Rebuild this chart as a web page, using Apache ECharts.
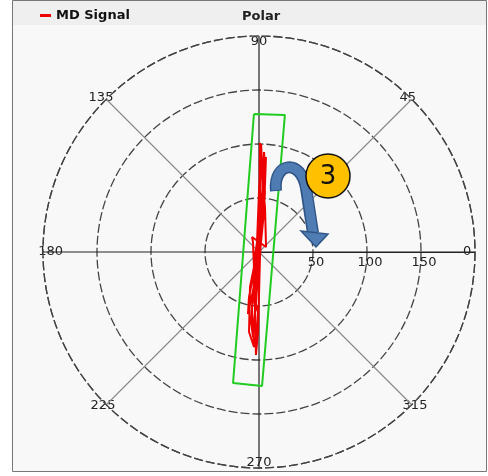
<!DOCTYPE html>
<html>
<head>
<meta charset="utf-8">
<script src="https://cdn.jsdelivr.net/npm/echarts@6/dist/echarts.min.js"></script>
<style>
html,body{margin:0;padding:0;background:#ffffff;}
#chart{width:488px;height:476px;}
</style>
</head>
<body>
<div id="chart"></div>
<script>
// Angle tick labels (degrees)
const angleLabels = ['0', '45', '90', '135', '180', '225', '270', '315'];
// Radius tick labels
const radiusLabels = ['50', '100', '150'];
const radiusMax = 200;

// MD Signal trace: radius and angle (degrees)
const signalR = [90.8, 55.6, 37.5, 18.6, 64.8, 100.0, 83.4, 55.8, 28.0, 2.1, 28.2, 65.2, 78.9, 46.4, 9.3, 37.3, 88.2, 65.1, 18.7, 14.4, 42.7, 58.3, 18.6, 9.3, 46.4, 97.2, 55.6, 9.4, 10.4, 95.4, 74.1, 4.7,
  27.9, 78.9, 92.7, 64.9, 37.1, 5.4, 33.5, 74.6, 88.1, 51.3, 23.2, 18.5, 101.0, 69.5,
  42.0, 8.0, 15.3, 10.8, 41.8];
const signalTheta = [268.2, 269.0, 261.5, 84.3, 89.2, 88.9, 88.1, 84.3, 82.4, 116.6, 260.5, 263.5, 266.0, 266.6, 270.0, 82.9, 85.8, 85.1, 81.5, 255.1, 257.5, 259.9, 264.3, 84.3, 85.4, 88.9, 90.0, 101.3, 243.4, 268.3, 269.3, 281.3,
  84.3, 86.0, 87.1, 86.7, 87.1, 239.0, 255.6, 262.9, 267.0, 262.7, 265.4, 90.0, 89.5, 87.7,
  82.4, 35.5, 115.0, 121.0, 265.0];

// Green box outline: radius and angle (degrees)
const boxR = [127.9, 129.1, 124.1, 123.7, 127.9];
const boxTheta = [92.1, 79.3, 271.3, 258.8, 92.1];

const signalData = signalR.map((r, i) => [r, signalTheta[i]]);
const boxData = boxR.map((r, i) => [r, boxTheta[i]]);

const labelBase = {fontFamily: 'DejaVu Sans', fontSize: 13, color: '#222', textBorderColor: '#f8f8f8', textBorderWidth: 3};
const angleRich = {
  r0: Object.assign({padding: [0, 0, 0, 8]}, labelBase),
  r1: Object.assign({padding: [0, 0, 9, 2]}, labelBase),
  r2: Object.assign({padding: [0, 0, 8, 0]}, labelBase),
  r3: Object.assign({padding: [0, 7, 9, 0]}, labelBase),
  r4: Object.assign({padding: [0, 0, 0, 0]}, labelBase),
  r5: Object.assign({padding: [9, 5, 0, 0]}, labelBase),
  r6: Object.assign({padding: [8, 0, 0, 0]}, labelBase),
  r7: Object.assign({padding: [9, 0, 0, 5]}, labelBase)
};

const chart = echarts.init(document.getElementById('chart'), null, {renderer: 'canvas'});
chart.setOption({
  animation: false,
  backgroundColor: '#ffffff',
  title: {
    text: 'Polar',
    left: 237,
    top: 5,
    textStyle: {fontFamily: 'DejaVu Sans', fontSize: 13, fontWeight: 'bold', color: '#222'}
  },
  legend: {
    data: ['MD Signal'],
    left: 35,
    top: 4,
    icon: 'rect',
    itemWidth: 11,
    itemHeight: 3,
    itemGap: 4,
    textStyle: {fontFamily: 'DejaVu Sans', fontSize: 13, fontWeight: 'bold', color: '#111'}
  },
  polar: {center: [259, 252], radius: 216},
  angleAxis: {
    type: 'value',
    min: 0, max: 360, interval: 45,
    startAngle: 0,
    clockwise: false,
    axisLine: {show: true, lineStyle: {color: '#444', width: 1.3, type: [9, 3]}},
    axisTick: {show: false},
    axisLabel: {
      margin: -20,
      rich: angleRich,
      formatter: function (v) {
        const i = Math.round(v / 45);
        return i < angleLabels.length ? '{r' + i + '|' + angleLabels[i] + '}' : '';
      }
    },
    splitLine: {show: true, lineStyle: {color: ['#222', '#8a8a8a'], width: 1.2}}
  },
  radiusAxis: {
    type: 'value',
    min: 0, max: radiusMax, interval: 50,
    axisLine: {show: true, lineStyle: {color: '#222', width: 1.2}},
    axisTick: {show: false},
    axisLabel: {
      showMinLabel: false, showMaxLabel: false,
      margin: -4,
      verticalAlign: 'top',
      padding: [0, 0, 0, 6],
      fontFamily: 'DejaVu Sans', fontSize: 13, color: '#222',
      formatter: function (v) { const i = Math.round(v / 50) - 1; return (i >= 0 && i < radiusLabels.length) ? radiusLabels[i] : ''; }
    },
    splitLine: {show: true, lineStyle: {color: '#444', width: 1.3, type: [9, 3]}}
  },
  series: [
    {
      name: 'MD Signal', type: 'line', coordinateSystem: 'polar',
      data: signalData, showSymbol: false, symbol: 'none', z: 4,
      lineStyle: {color: '#ee0000', width: 2}, itemStyle: {color: '#ee0000'}
    },
    {
      name: 'Box', type: 'line', coordinateSystem: 'polar',
      data: boxData, showSymbol: false, symbol: 'none', z: 3,
      lineStyle: {color: '#1fcc1f', width: 2}, itemStyle: {color: '#1fcc1f'}
    }
  ],
  graphic: [
    {type: 'rect', z: -10, silent: true, shape: {x: 12.5, y: 0.5, width: 474, height: 471}, style: {fill: '#f8f8f8', stroke: '#777', lineWidth: 1}},
    {type: 'rect', z: -9, silent: true, shape: {x: 13, y: 1, width: 473, height: 24}, style: {fill: '#efefef'}},
    {type: 'bezierCurve', z: 20, silent: true,
      shape: {x1: 276, y1: 191, cpx1: 273, cpy1: 162, cpx2: 301, cpy2: 158, x2: 306, y2: 188},
      style: {fill: null, stroke: '#2f5587', lineWidth: 12}},
    {type: 'line', z: 20, silent: true,
      shape: {x1: 306, y1: 188, x2: 313, y2: 233},
      style: {stroke: '#2f5587', lineWidth: 12}},
    {type: 'bezierCurve', z: 21, silent: true,
      shape: {x1: 276, y1: 190, cpx1: 273, cpy1: 162, cpx2: 301, cpy2: 158, x2: 306, y2: 188},
      style: {fill: null, stroke: '#4f7cb3', lineWidth: 9}},
    {type: 'line', z: 21, silent: true,
      shape: {x1: 306, y1: 186, x2: 313, y2: 233},
      style: {stroke: '#4f7cb3', lineWidth: 9}},
    {type: 'polygon', z: 22, silent: true,
      shape: {points: [[301, 231], [328, 234], [316, 247]]},
      style: {fill: '#4f7cb3', stroke: '#2f5587', lineWidth: 1.5}},
    {type: 'circle', z: 23, silent: true,
      shape: {cx: 328, cy: 176, r: 22},
      style: {fill: '#ffc000', stroke: '#111', lineWidth: 1.5}},
    {type: 'text', z: 24, silent: true, x: 328, y: 177,
      style: {text: '3', fill: '#111', font: '26px "DejaVu Sans"', align: 'center', verticalAlign: 'middle'}}
  ]
});
</script>
</body>
</html>
